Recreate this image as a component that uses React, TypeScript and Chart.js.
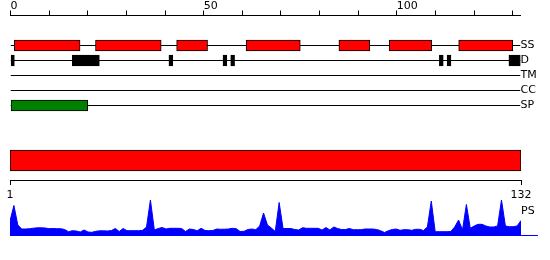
import React, { useEffect, useRef } from 'react';
import { Chart, registerables } from 'chart.js';

Chart.register(...registerables);

// ---------- data ----------
const TRACK_LABELS = ['SS', 'D', 'TM', 'CC', 'SP'];
const TRACK_ROWS = [0, 1, 2, 3, 4];
const SEQ_START = 0;
const SEQ_END = 132;
const TOP_TICKS = [0, 10, 20, 30, 40, 50, 60, 70, 80, 90, 100, 110, 120, 130];
const TOP_TICK_LABELS = [0, 50, 100];

const SS_SEGMENTS: [number, number][] = [[1, 18], [22, 39], [43, 51], [61, 75], [85, 93], [98, 109], [116, 130]];
const D_SEGMENTS: [number, number][] = [[0, 1], [16, 23], [41, 42], [55, 56], [57, 58], [111, 112], [113, 114], [129, 132]];
const SP_SEGMENTS: [number, number][] = [[0, 20]];

const PS_RANGE: [number, number] = [1, 132];
const PS_AXIS_TICKS = [1, 132];
const PS_LABEL = 'PS';
const PS_LABEL_TICK = 24;
const PS_VALUES = [
  14, 29.5, 10, 6, 6, 6.3, 6.8, 7.2, 7.2, 7,
  6.3, 6.5, 6.3, 6.3, 5.5, 3.3, 4.3, 4, 3, 5,
  3, 2.7, 3.7, 4.2, 4.2, 4, 4.5, 6.5, 3.5, 6.5,
  4.3, 4.3, 4.3, 4.3, 4.7, 8, 35, 5, 6.5, 7.5,
  6, 6.7, 6.7, 6.7, 6.5, 3.5, 6, 5.5, 4.3, 6.7,
  4.5, 4.3, 4.5, 6, 5.7, 5.8, 6, 6.7, 6.3, 3.5,
  3.7, 5.5, 6, 5.3, 9, 22, 10, 7, 3.5, 32.5,
  6.5, 6.5, 6.5, 5.5, 5, 7.3, 6.7, 6.7, 6.7, 6.7,
  5, 7.5, 5, 8, 6.5, 5.5, 5.5, 6.5, 5.3, 5.3,
  5.3, 6, 6, 6, 5.5, 4.3, 2.5, 4.3, 5.5, 6,
  4.7, 5.3, 5.3, 4.7, 5.7, 5.7, 4.5, 8, 34, 3.3,
  3.3, 3.3, 3.3, 3.5, 8, 15, 5, 30.5, 6.7, 9,
  10.7, 10.7, 9, 8, 8, 9, 35, 9, 8.3, 8.3,
  9, 14.5,
];

// ---------- styles ----------
const FONT = { family: 'DejaVu Sans', size: 11, lineHeight: 1 };
const BLACK = '#000000';
const RED = '#ff0000';
const GREEN = '#008000';
const BLUE = '#0000ff';

function useChart(ref: React.RefObject<HTMLCanvasElement>, make: () => any) {
  useEffect(() => {
    if (!ref.current) return;
    const chart = new Chart(ref.current, make());
    return () => chart.destroy();
  }, []);
}

const barSet = (segs: [number, number][], row: number, color: string, thickness: number) => ({
  type: 'bar',
  indexAxis: 'y',
  grouped: false,
  data: segs.map((s) => ({ x: s, y: row })),
  backgroundColor: color,
  borderColor: BLACK,
  borderWidth: 1,
  borderSkipped: false,
  barThickness: thickness,
  order: 1,
});

function TracksChart() {
  const ref = useRef<HTMLCanvasElement>(null);
  useChart(ref, () => {
    const rowLines = TRACK_ROWS.map((r) => ({
      type: 'line',
      data: [{ x: SEQ_START, y: r }, { x: SEQ_END, y: r }],
      borderColor: BLACK,
      borderWidth: 1,
      pointRadius: 0,
      order: 2,
    }));
    const ss = barSet(SS_SEGMENTS, TRACK_ROWS[0], RED, 11);
    const d = barSet(D_SEGMENTS, TRACK_ROWS[1], BLACK, 11);
    const sp = barSet(SP_SEGMENTS, TRACK_ROWS[4], GREEN, 11);
    return {
      type: 'bar',
      data: { datasets: [...rowLines, ss, d, sp] },
      options: {
        responsive: false,
        animation: false,
        events: [],
        layout: { padding: { left: 10.5, right: 0, top: 1.1, bottom: 5.5 } },
        plugins: { legend: { display: false }, tooltip: { enabled: false }, title: { display: false } },
        scales: {
          x: {
            type: 'linear',
            position: 'top',
            offset: false,
            min: SEQ_START,
            max: SEQ_END,
            afterBuildTicks: (s: any) => { s.ticks = TOP_TICKS.map((v) => ({ value: v })); },
            ticks: {
              align: 'start',
              autoSkip: false,
              maxRotation: 0,
              padding: -0.8,
              color: BLACK,
              font: FONT,
              callback: (v: number) => (TOP_TICK_LABELS.includes(v) ? String(v) : ''),
            },
            grid: { offset: false, drawOnChartArea: false, drawTicks: true, tickLength: 5, color: BLACK, lineWidth: 1 },
            border: { display: true, color: BLACK, width: 1 },
          },
          y: {
            type: 'linear',
            position: 'right',
            offset: false,
            reverse: true,
            min: -2,
            max: 4.6,
            afterBuildTicks: (s: any) => { s.ticks = TRACK_ROWS.map((v) => ({ value: v })); },
            afterFit: (s: any) => { s.width = 29.5; },
            ticks: {
              padding: 0,
              autoSkip: false,
              color: BLACK,
              font: FONT,
              callback: (v: number) => TRACK_LABELS[v] ?? '',
            },
            grid: { display: false, drawTicks: false, offset: false },
            border: { display: false },
          },
        },
      },
    };
  });
  return <canvas ref={ref} width={550} height={120} style={{ position: 'absolute', left: 0, top: 0 }} />;
}

function SequenceBarChart() {
  const ref = useRef<HTMLCanvasElement>(null);
  useChart(ref, () => ({
    type: 'bar',
    data: {
      datasets: [{
        indexAxis: 'y',
        data: [{ x: PS_RANGE, y: 0 }],
        backgroundColor: RED,
        borderColor: BLACK,
        borderWidth: 1,
        borderSkipped: false,
        barThickness: 21,
      }],
    },
    options: {
      responsive: false,
      animation: false,
      events: [],
      layout: { padding: { left: 10, right: 29, top: 1, bottom: 5 } },
      plugins: { legend: { display: false }, tooltip: { enabled: false } },
      scales: {
        x: {
          type: 'linear',
          position: 'bottom',
          offset: false,
          min: PS_RANGE[0],
          max: PS_RANGE[1],
          afterBuildTicks: (s: any) => { s.ticks = PS_AXIS_TICKS.map((v) => ({ value: v })); },
          ticks: { padding: 4.5, autoSkip: false, maxRotation: 0, color: BLACK, font: FONT, callback: (v: number) => String(v) },
          grid: { offset: false, drawOnChartArea: false, drawTicks: true, tickLength: 5, color: BLACK, lineWidth: 1 },
          border: { display: true, color: BLACK, width: 1 },
        },
        y: { type: 'linear', offset: false, min: -1, max: 1, display: false },
      },
    },
  }));
  return <canvas ref={ref} width={550} height={70} style={{ position: 'absolute', left: 0, top: 140 }} />;
}

function ProfileChart() {
  const ref = useRef<HTMLCanvasElement>(null);
  useChart(ref, () => ({
    type: 'line',
    data: {
      datasets: [{
        data: PS_VALUES.map((v, i) => ({ x: PS_RANGE[0] + i, y: v })),
        borderColor: BLUE,
        backgroundColor: BLUE,
        borderWidth: 1,
        pointRadius: 0,
        fill: 'origin',
        tension: 0,
      }],
    },
    options: {
      responsive: false,
      animation: false,
      events: [],
      layout: { padding: { left: 10, right: 0, top: 5, bottom: 5 } },
      plugins: { legend: { display: false }, tooltip: { enabled: false } },
      scales: {
        x: {
          type: 'linear',
          position: 'bottom',
          offset: false,
          min: PS_RANGE[0],
          max: PS_RANGE[1],
          grid: { display: false, drawTicks: false },
          ticks: { display: false },
          border: { display: true, color: BLUE, width: 1 },
        },
        y: {
          type: 'linear',
          position: 'right',
          offset: false,
          min: 0,
          max: 35,
          afterBuildTicks: (s: any) => { s.ticks = [0, PS_LABEL_TICK].map((v) => ({ value: v })); },
          afterFit: (s: any) => { s.width = 29; },
          ticks: {
            padding: -17,
            autoSkip: false,
            color: BLACK,
            font: FONT,
            callback: (v: number) => (v === PS_LABEL_TICK ? PS_LABEL : ''),
          },
          grid: {
            display: true,
            drawOnChartArea: false,
            drawTicks: true,
            tickLength: 17,
            lineWidth: 1,
            color: (ctx: any) => (ctx.tick && ctx.tick.value === 0 ? BLUE : 'rgba(0,0,0,0)'),
          },
          border: { display: false },
        },
      },
    },
  }));
  return <canvas ref={ref} width={550} height={45} style={{ position: 'absolute', left: 0, top: 195 }} />;
}

export default function App() {
  return (
    <div style={{ position: 'absolute', left: 0, top: 0, width: 550, height: 260, background: '#ffffff', overflow: 'hidden' }}>
      <TracksChart />
      <SequenceBarChart />
      <ProfileChart />
    </div>
  );
}
